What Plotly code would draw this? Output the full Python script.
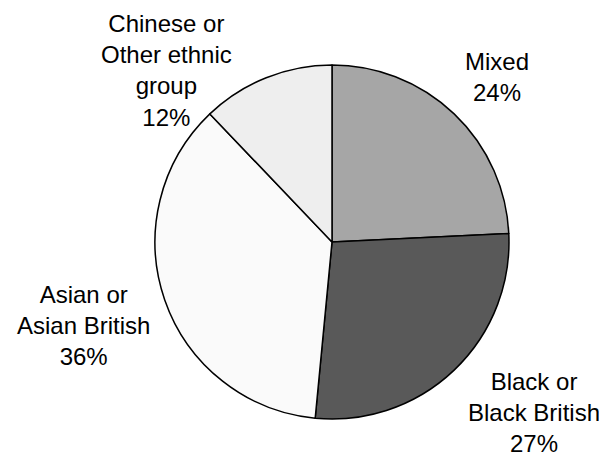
import plotly.graph_objects as go

# Data
categories = ["Mixed", "Black or Black British", "Asian or Asian British", "Chinese or Other ethnic group"]
values = [24, 27, 36, 12]
label_lines = ["Mixed", "Black or<br>Black British", "Asian or<br>Asian British", "Chinese or<br>Other ethnic<br>group"]

# Styles
colors = ["#a6a6a6", "#595959", "#fafafa", "#eeeeee"]
OFF = 8  # page body margin of the viewer
W, H = 607 - OFF, 458 - OFF
label_pos = [(497, 77), (534, 412), (83, 325), (166, 70)]  # pixel centres (page coords)
cx, cy, r = 332, 242, 177

def px_x(x):
    return (x - OFF) / W

def px_y(y):
    return 1 - (y - OFF) / H

fig = go.Figure(go.Pie(
    labels=categories,
    values=values,
    sort=False,
    direction="clockwise",
    rotation=0,
    textinfo="none",
    hoverinfo="label+percent",
    marker=dict(colors=colors, line=dict(color="#000000", width=1.5)),
    showlegend=False,
    domain=dict(x=[px_x(cx - r), px_x(cx + r)], y=[px_y(cy + r), px_y(cy - r)]),
))

for txt, v, (px, py) in zip(label_lines, values, label_pos):
    fig.add_annotation(
        text=f"{txt}<br>{v}%",
        x=px_x(px), y=px_y(py), xref="paper", yref="paper",
        xanchor="center", yanchor="middle", showarrow=False,
        align="center",
        font=dict(family="Liberation Sans, Arial, sans-serif", size=24, color="#000000"),
    )

fig.update_layout(
    width=W, height=H,
    margin=dict(l=0, r=0, t=0, b=0),
    paper_bgcolor="#ffffff", plot_bgcolor="#ffffff",
)

fig.write_html("out.html")
